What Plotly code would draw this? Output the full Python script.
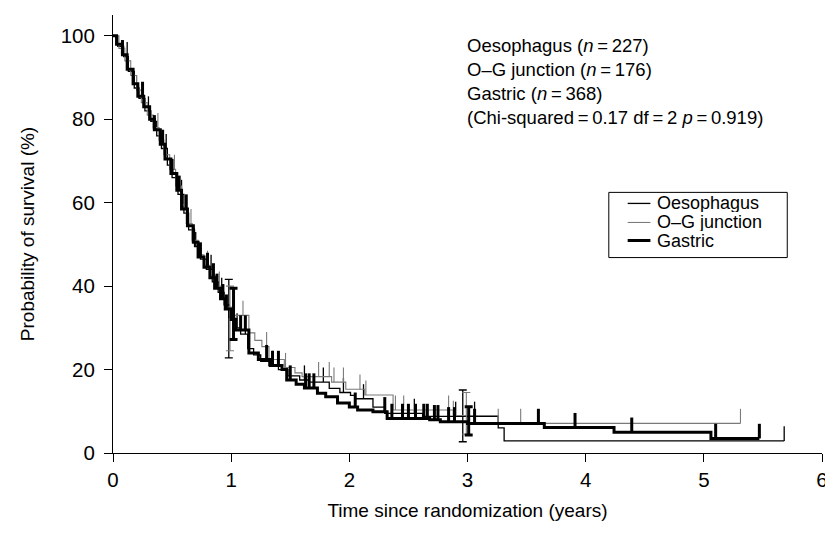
import plotly.graph_objects as go

# Kaplan-Meier steps (time in years, survival in %)
oes_t = [0, 0.04, 0.09, 0.13, 0.18, 0.22, 0.27, 0.32, 0.37, 0.41, 0.46, 0.5, 0.55, 0.6, 0.64,
         0.69, 0.74, 0.79, 0.84, 0.89, 0.94, 0.98, 1.03, 1.08, 1.14, 1.19, 1.25, 1.32, 1.4,
         1.48, 1.58, 1.66, 1.83, 1.92, 2.01, 2.05, 2.2, 2.3, 2.62, 3.26, 3.31, 5.68]
oes_s = [100, 97.5, 95, 91.5, 87.5, 85, 82, 79.5, 76, 73, 69, 66, 62, 57.5, 53.5,
         49.5, 46.5, 44, 41, 38.5, 35.5, 32.5, 30, 28.5, 25, 23.5, 22, 21, 20,
         18.5, 17.5, 17, 15.5, 14.5, 13.8, 13, 11, 9.5, 8.8, 6.0, 2.9, 2.9]

og_t = [0, 0.05, 0.1, 0.15, 0.2, 0.24, 0.29, 0.34, 0.39, 0.43, 0.48, 0.53, 0.58, 0.62, 0.67,
        0.72, 0.77, 0.82, 0.87, 0.92, 0.96, 1.0, 1.15, 1.2, 1.26, 1.32, 1.45, 1.54, 1.6,
        1.85, 1.97, 2.13, 2.37, 2.88, 3.26, 5.31]
og_s = [100, 97, 94, 90.5, 87, 84, 81, 78, 75, 71.5, 68, 64, 59.5, 55, 51,
        47.5, 45, 42.5, 40, 37, 35, 33, 28.8, 27, 25.5, 22.4, 20.5, 19.2, 18.3,
        17, 15.3, 13.9, 10.3, 9.0, 7.1, 7.1]

ga_t = [0, 0.03, 0.08, 0.12, 0.17, 0.21, 0.26, 0.31, 0.35, 0.4, 0.44, 0.49, 0.54, 0.58, 0.63,
        0.68, 0.72, 0.77, 0.82, 0.86, 0.91, 0.95, 1.0, 1.04, 1.15, 1.23, 1.33, 1.43, 1.47,
        1.55, 1.62, 1.73, 1.8, 1.9, 2.0, 2.07, 2.2, 2.32, 2.68, 2.77, 3.0, 3.65, 4.24, 5.06, 5.47]
ga_s = [100, 98, 95.5, 92, 88.5, 85.5, 83, 80, 77.5, 74, 70.5, 67, 63, 58.5, 54.5,
        50.5, 47, 44.5, 42, 39.5, 37, 34.5, 32, 29.5, 24, 22.4, 21, 20, 17.5,
        16.5, 15.6, 14.3, 13.5, 12, 11, 10.3, 9.9, 8.3, 8.0, 7.5, 7.1, 6.1, 5.0, 3.5, 3.5]

# censoring times
oes_cens = [0.12, 0.3, 0.45, 0.58, 0.7, 0.83, 0.92, 1.05, 1.12, 1.35, 1.62, 1.78, 1.95,
            2.12, 2.3, 2.55, 2.9, 3.06, 5.68]
og_cens = [0.2, 0.38, 0.52, 0.66, 0.8, 0.9, 1.1, 1.3, 1.46, 1.74, 1.83, 1.87, 1.95, 2.09,
           2.14, 2.39, 2.46, 2.84, 2.88, 3.26, 3.45, 5.31]
ga_cens = [0.08, 0.25, 0.35, 0.42, 0.5, 0.56, 0.62, 0.68, 0.74, 0.8, 0.85, 0.88, 0.93, 0.96,
           1.08, 1.12, 1.3, 1.35, 1.4, 1.5, 1.63, 1.66, 1.7, 2.05, 2.3, 2.36, 2.45, 2.5,
           2.56, 2.63, 2.66, 2.72, 2.75, 2.84, 2.89, 3.06, 3.6, 3.91, 4.39, 5.1, 5.47]

# confidence intervals at 1 and 3 years (time, lower, upper)
oes_ci_t = [0.98, 2.96]
oes_ci_lo = [22.8, 2.7]
oes_ci_hi = [41.6, 15.1]
og_ci_t = [0.99, 2.99]
og_ci_lo = [24.5, 4.5]
og_ci_hi = [40.0, 14.5]
ga_ci_t = [1.02, 3.01]
ga_ci_lo = [27.2, 4.3]
ga_ci_hi = [39.5, 11.1]

names = ['Oesophagus', 'O–G junction', 'Gastric']
counts = [227, 176, 368]


def level_at(ts, ss, t):
    val = ss[0]
    for ti, si in zip(ts, ss):
        if ti <= t:
            val = si
    return val


series = [
    (names[0], oes_t, oes_s, oes_cens, oes_ci_t, oes_ci_lo, oes_ci_hi, 'black', 1.3),
    (names[1], og_t, og_s, og_cens, og_ci_t, og_ci_lo, og_ci_hi, '#7a7a7a', 1.1),
    (names[2], ga_t, ga_s, ga_cens, ga_ci_t, ga_ci_lo, ga_ci_hi, 'black', 3),
]

fig = go.Figure()
for name, ts, ss, cens, ct, clo, chi, col, w in series:
    fig.add_trace(go.Scatter(x=ts, y=ss, mode='lines', name=name,
                             line=dict(color=col, width=w, shape='hv')))
    # censor ticks
    cy = [level_at(ts, ss, c) for c in cens]
    fig.add_trace(go.Scatter(x=cens, y=cy, mode='markers', marker=dict(size=0.1, color=col),
                             showlegend=False, hoverinfo='skip',
                             error_y=dict(type='data', symmetric=False, array=[3.5] * len(cens),
                                          arrayminus=[0] * len(cens), color=col,
                                          thickness=w, width=0)))
    # confidence bars
    fig.add_trace(go.Scatter(x=ct, y=clo, mode='markers', marker=dict(size=0.1, color=col),
                             showlegend=False, hoverinfo='skip',
                             error_y=dict(type='data', symmetric=False,
                                          array=[h - l for h, l in zip(chi, clo)],
                                          arrayminus=[0] * len(ct), color=col,
                                          thickness=w, width=4)))

txt = '<br>'.join(f'{n} (<i>n</i>\u2009=\u2009{c})' for n, c in zip(names, counts))
txt += '<br>(Chi-squared\u2009=\u20090.17 df\u2009=\u20092 <i>p</i>\u2009=\u20090.919)'
fig.add_annotation(x=0.4964, y=0.959, xref='paper', yref='paper', xanchor='left', yanchor='top',
                   text=txt, showarrow=False, align='left',
                   font=dict(size=18.5, color='black'))

# legend box drawn by hand so the rows sit as tight as in the reference
leg_y = [0.5698, 0.5263, 0.4851]
fig.add_shape(type='rect', xref='paper', yref='paper', x0=0.6993, x1=0.9510, y0=0.4462, y1=0.595,
              line=dict(color='black', width=1), fillcolor='white', layer='above')
for (name, *_rest, col, w), yy in zip(series, leg_y):
    fig.add_shape(type='line', xref='paper', yref='paper', x0=0.7259, x1=0.7580, y0=yy, y1=yy,
                  line=dict(color=col, width=w), layer='above')
    fig.add_annotation(x=0.7650, y=yy, xref='paper', yref='paper', xanchor='left', yanchor='middle',
                       text=name, showarrow=False, height=18, font=dict(size=18, color='black'))

font = 'Liberation Sans, Arial, sans-serif'
fig.update_layout(
    width=825, height=526,
    margin=dict(l=105, r=5, t=7, b=81),
    paper_bgcolor='white', plot_bgcolor='white',
    font=dict(family=font, size=18, color='black'),
    showlegend=False,
)
fig.update_xaxes(range=[0, 6], tickvals=[0, 1, 2, 3, 4, 5, 6], showgrid=False, zeroline=False,
                 showline=True, linecolor='black', linewidth=1, ticks='outside', ticklen=8,
                 tickcolor='black', tickfont=dict(size=20.5), ticklabeloverflow='allow',
                 title=dict(text='Time since randomization (years)', font=dict(size=19), standoff=14))
fig.update_yaxes(range=[0, 105], tickvals=[0, 20, 40, 60, 80, 100], showgrid=False, zeroline=False,
                 showline=True, linecolor='black', linewidth=1, ticks='outside', ticklen=8,
                 tickcolor='black', tickfont=dict(size=20.5), ticklabelstandoff=5,
                 title=dict(text='Probability of survival (%)', font=dict(size=19), standoff=21))

fig.write_html('out.html')
